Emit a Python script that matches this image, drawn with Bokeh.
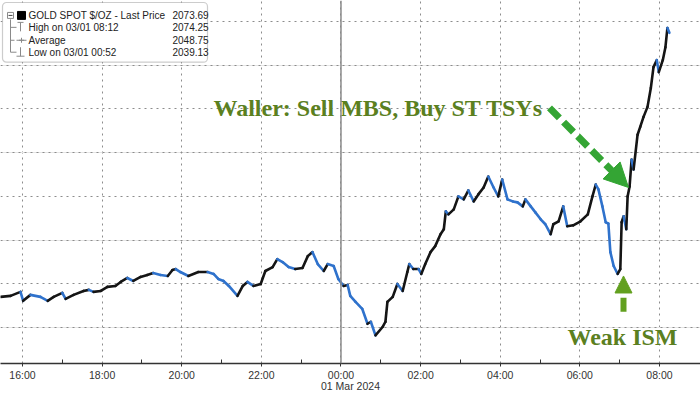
import pandas as pd
from bokeh.plotting import figure
from bokeh.models import (ColumnDataSource, Range1d, FixedTicker, DatetimeTickFormatter,
                          Grid, Span, BoxAnnotation, Arrow, NormalHead)
from bokeh.core.properties import value
from bokeh.embed import file_html
from bokeh.resources import INLINE

# ---------------- data ----------------
times = [
    "2024-02-29 15:27", "2024-02-29 15:42", "2024-02-29 15:57", "2024-02-29 16:01", "2024-02-29 16:12",
    "2024-02-29 16:27", "2024-02-29 16:38", "2024-02-29 16:47", "2024-02-29 17:00", "2024-02-29 17:05",
    "2024-02-29 17:17", "2024-02-29 17:32", "2024-02-29 17:40", "2024-02-29 17:47", "2024-02-29 17:58",
    "2024-02-29 18:08", "2024-02-29 18:20", "2024-02-29 18:28", "2024-02-29 18:38", "2024-02-29 18:47",
    "2024-02-29 18:58", "2024-02-29 19:08", "2024-02-29 19:17", "2024-02-29 19:28", "2024-02-29 19:39",
    "2024-02-29 19:46", "2024-02-29 19:51", "2024-02-29 19:58", "2024-02-29 20:10", "2024-02-29 20:25",
    "2024-02-29 20:39", "2024-02-29 20:48", "2024-02-29 20:55", "2024-02-29 21:03", "2024-02-29 21:11",
    "2024-02-29 21:24", "2024-02-29 21:32", "2024-02-29 21:39", "2024-02-29 21:48", "2024-02-29 21:59",
    "2024-02-29 22:06", "2024-02-29 22:17", "2024-02-29 22:24", "2024-02-29 22:32", "2024-02-29 22:41",
    "2024-02-29 22:51", "2024-02-29 23:02", "2024-02-29 23:10", "2024-02-29 23:17", "2024-02-29 23:25",
    "2024-02-29 23:34", "2024-02-29 23:40", "2024-02-29 23:49", "2024-02-29 23:56", "2024-03-01 00:04",
    "2024-03-01 00:10", "2024-03-01 00:14", "2024-03-01 00:22", "2024-03-01 00:32", "2024-03-01 00:40",
    "2024-03-01 00:45", "2024-03-01 00:52", "2024-03-01 01:03", "2024-03-01 01:07", "2024-03-01 01:10",
    "2024-03-01 01:18", "2024-03-01 01:25", "2024-03-01 01:33", "2024-03-01 01:40", "2024-03-01 01:43",
    "2024-03-01 01:49", "2024-03-01 01:57", "2024-03-01 02:01", "2024-03-01 02:07", "2024-03-01 02:15",
    "2024-03-01 02:22", "2024-03-01 02:30", "2024-03-01 02:35", "2024-03-01 02:38", "2024-03-01 02:42",
    "2024-03-01 02:50", "2024-03-01 02:57", "2024-03-01 03:05", "2024-03-01 03:12", "2024-03-01 03:20",
    "2024-03-01 03:27", "2024-03-01 03:35", "2024-03-01 03:42", "2024-03-01 03:50", "2024-03-01 03:57",
    "2024-03-01 04:03", "2024-03-01 04:11", "2024-03-01 04:19", "2024-03-01 04:26", "2024-03-01 04:34",
    "2024-03-01 04:38", "2024-03-01 04:46", "2024-03-01 04:53", "2024-03-01 05:01", "2024-03-01 05:08",
    "2024-03-01 05:16", "2024-03-01 05:20", "2024-03-01 05:28", "2024-03-01 05:35", "2024-03-01 05:41",
    "2024-03-01 05:50", "2024-03-01 06:01", "2024-03-01 06:12", "2024-03-01 06:19", "2024-03-01 06:24",
    "2024-03-01 06:28", "2024-03-01 06:34", "2024-03-01 06:39", "2024-03-01 06:43", "2024-03-01 06:46",
    "2024-03-01 06:51", "2024-03-01 06:57", "2024-03-01 07:01", "2024-03-01 07:03", "2024-03-01 07:06",
    "2024-03-01 07:10", "2024-03-01 07:12", "2024-03-01 07:15", "2024-03-01 07:18", "2024-03-01 07:21",
    "2024-03-01 07:27", "2024-03-01 07:31", "2024-03-01 07:36", "2024-03-01 07:42", "2024-03-01 07:47",
    "2024-03-01 07:51", "2024-03-01 07:56", "2024-03-01 07:59", "2024-03-01 08:05", "2024-03-01 08:09",
    "2024-03-01 08:12", "2024-03-01 08:15",
]
prices = [
    2043.52, 2043.64, 2044.09, 2043.07, 2043.75,
    2043.52, 2043.07, 2043.52, 2043.98, 2043.30,
    2043.75, 2044.20, 2044.32, 2044.09, 2044.20,
    2044.66, 2044.77, 2045.23, 2045.68, 2045.34,
    2045.80, 2046.02, 2046.25, 2046.02, 2045.91,
    2046.59, 2046.70, 2046.36, 2045.91, 2046.36,
    2046.36, 2046.14, 2045.57, 2045.34, 2044.77,
    2043.64, 2044.77, 2045.23, 2044.77, 2045.00,
    2046.48, 2046.93, 2047.84, 2047.50, 2046.93,
    2046.70, 2046.82, 2048.18, 2048.64, 2047.27,
    2046.48, 2047.27, 2047.05, 2045.57, 2044.77,
    2044.89, 2043.64, 2042.95, 2042.16, 2040.45,
    2040.68, 2039.13, 2040.11, 2040.68, 2042.95,
    2043.52, 2045.00, 2044.20, 2046.36, 2047.27,
    2046.70, 2046.70, 2046.14, 2047.27, 2048.64,
    2049.32, 2050.68, 2051.25, 2053.30, 2052.95,
    2053.52, 2055.00, 2054.66, 2055.68, 2054.43,
    2055.23, 2056.02, 2057.27, 2056.02, 2055.00,
    2056.93, 2054.66, 2054.43, 2054.32, 2053.86,
    2054.66, 2053.86, 2053.18, 2052.39, 2051.82,
    2050.68, 2051.82, 2052.16, 2053.86, 2051.59,
    2051.70, 2052.16, 2052.95, 2055.00, 2056.36,
    2055.80, 2053.86, 2052.05, 2051.90, 2048.64,
    2047.05, 2046.14, 2046.70, 2052.05, 2052.73,
    2051.25, 2055.00, 2056.14, 2059.20, 2058.07,
    2062.05, 2062.95, 2064.09, 2065.23, 2067.39,
    2069.77, 2070.57, 2069.20, 2070.57, 2072.05,
    2074.25, 2073.69,
]

tick_times = ["2024-02-29 16:00", "2024-02-29 18:00", "2024-02-29 20:00", "2024-02-29 22:00",
              "2024-03-01 00:00", "2024-03-01 02:00", "2024-03-01 04:00", "2024-03-01 06:00",
              "2024-03-01 08:00"]
minor_tick_times = ["2024-02-29 17:00", "2024-02-29 19:00", "2024-02-29 21:00", "2024-02-29 23:00",
                    "2024-03-01 01:00", "2024-03-01 03:00", "2024-03-01 05:00", "2024-03-01 07:00"]
date_label = "01 Mar 2024"
y_grid_levels = [2040, 2045, 2050, 2055, 2060, 2065, 2070, 2075]

legend_labels = ["GOLD SPOT $/OZ - Last Price", "High on 03/01 08:12", "Average", "Low on 03/01 00:52"]
legend_values = ["2073.69", "2074.25", "2048.75", "2039.13"]

note_waller = "Waller: Sell MBS, Buy ST TSYs"
note_ism = "Weak ISM"

# ---------------- helpers ----------------
EPOCH = pd.Timestamp("1970-01-01")


def ms(s):
    return (pd.Timestamp(s) - EPOCH) / pd.Timedelta(milliseconds=1)


T0 = ms("2024-02-29 16:00")   # at page x = 22
PXH = 39.81                    # px per hour
PXY = 8.8                      # px per dollar


def X(px):
    return T0 + (px - 22) / PXH * 3.6e6


def Y(py):
    return 2040 + (329 - py) / PXY


W, H, BB = 700, 394, 29
frame_bottom = H - BB

t_ms = [ms(s) for s in times]

p = figure(width=W, height=H, x_axis_type="datetime", y_axis_location=None,
           x_range=Range1d(X(0), X(W)), y_range=Range1d(Y(frame_bottom), Y(0)),
           output_backend="svg", toolbar_location=None,
           min_border_left=0, min_border_right=0, min_border_top=0, min_border_bottom=BB)
p.outline_line_color = None
p.background_fill_color = "white"
p.border_fill_color = "white"

# grids
major = FixedTicker(ticks=[ms(s) for s in tick_times], minor_ticks=[ms(s) for s in minor_tick_times])
p.xgrid.ticker = major
p.xgrid.grid_line_color = "#8c8c8c"
p.xgrid.grid_line_dash = "2 4"
p.xgrid.grid_line_width = 1
p.add_layout(Grid(dimension=1, ticker=FixedTicker(ticks=y_grid_levels),
                  grid_line_color="#8c8c8c", grid_line_dash="2 4", grid_line_width=1))
p.add_layout(Span(location=ms("2024-03-01 00:00"), dimension="height",
                  line_color="#8a8a8a", line_width=1.5))

# axis (date shown as the axis label, centred under the frame)
ax = p.xaxis[0]
ax.ticker = major
ax.formatter = DatetimeTickFormatter(hours="%H:%M", hourmin="%H:%M", days="%H:%M", minutes="%H:%M")
ax.axis_line_color = "#333333"
ax.axis_line_width = 1.6
ax.major_tick_in = 0
ax.major_tick_out = 3
ax.minor_tick_in = 4
ax.minor_tick_out = 0
ax.major_tick_line_color = "#333333"
ax.minor_tick_line_color = "#333333"
ax.major_label_text_font = "Liberation Sans"
ax.major_label_text_font_size = "10.5px"
ax.major_label_text_color = "#333333"
ax.major_label_standoff = 2
ax.axis_label = date_label
ax.axis_label_text_font = "Liberation Sans"
ax.axis_label_text_font_size = "10.5px"
ax.axis_label_text_font_style = "normal"
ax.axis_label_text_color = "#333333"
ax.axis_label_standoff = -4

# price path: black on up moves, blue on down moves
x0, x1 = t_ms[:-1], t_ms[1:]
y0, y1 = prices[:-1], prices[1:]
cols = ["#151515" if b >= a else "#2f72cc" for a, b in zip(y0, y1)]
src = ColumnDataSource(dict(x0=x0, x1=x1, y0=y0, y1=y1, c=cols))
p.segment("x0", "y0", "x1", "y1", source=src, line_color="c", line_width=2.6, line_cap="round")

# annotations
text_green = "#5b801f"
p.text(x=[X(213)], y=[Y(108)], text=[note_waller], text_font=value("Liberation Serif"),
       text_font_style="bold", text_font_size="24px", text_color=text_green,
       text_baseline="alphabetic", text_align="left")
p.text(x=[X(567)], y=[Y(338)], text=[note_ism], text_font=value("Liberation Serif"),
       text_font_style="bold", text_font_size="24px", text_color=text_green,
       text_baseline="alphabetic", text_align="left")

g1 = "#34a534"
p.add_layout(Arrow(x_start=X(549), y_start=Y(108), x_end=X(628), y_end=Y(188),
                   line_color=g1, line_width=7, line_dash="14 6",
                   end=NormalHead(size=24, fill_color=g1, line_color=g1)))
g2 = "#62a01f"
p.add_layout(Arrow(x_start=X(623), y_start=Y(313), x_end=X(623), y_end=Y(277),
                   line_color=g2, line_width=6, line_dash="14 6",
                   end=NormalHead(size=17, fill_color=g2, line_color=g2)))

# legend box
p.add_layout(BoxAnnotation(left=X(2), right=X(207), top=Y(2), bottom=Y(62),
                           fill_color="white", fill_alpha=1.0, line_color="#555555",
                           line_width=1.2, border_radius=4))
rows_y = [15, 27, 40, 52]
p.text(x=[X(28)] * 4, y=[Y(r) for r in rows_y], text=legend_labels,
       text_font=value("Liberation Sans"), text_font_size="10px", text_color="#222222",
       text_baseline="middle", text_align="left", level="overlay")
p.text(x=[X(172)] * 4, y=[Y(r) for r in rows_y], text=legend_values,
       text_font=value("Liberation Sans"), text_font_size="10px", text_color="#222222",
       text_baseline="middle", text_align="left", level="overlay")
# tree lines and icons
gx = "#8a8a8a"
p.segment(x0=[X(10), X(10), X(10), X(10), X(17), X(20), X(16), X(20), X(16)],
          y0=[Y(19), Y(27), Y(40), Y(52), Y(22), Y(22), Y(40), Y(47), Y(56)],
          x1=[X(10), X(16), X(14), X(16), X(23), X(20), X(26), X(20), X(24)],
          y1=[Y(52), Y(27), Y(40), Y(52), Y(22), Y(31), Y(40), Y(56), Y(56)],
          line_color=gx, line_width=1, level="overlay")
p.quad(left=[X(7)], right=[X(13)], top=[Y(12)], bottom=[Y(18)], fill_color="white",
       line_color=gx, line_width=1, level="overlay")
p.segment(x0=[X(8)], y0=[Y(15)], x1=[X(12)], y1=[Y(15)], line_color="#444444", level="overlay")
p.quad(left=[X(17)], right=[X(25)], top=[Y(11)], bottom=[Y(19)], fill_color="black",
       line_color="black", level="overlay")
p.scatter(x=[X(21)], y=[Y(40)], marker="cross", size=5, line_color=gx, level="overlay")

open("out.html", "w").write(file_html(p, INLINE))
